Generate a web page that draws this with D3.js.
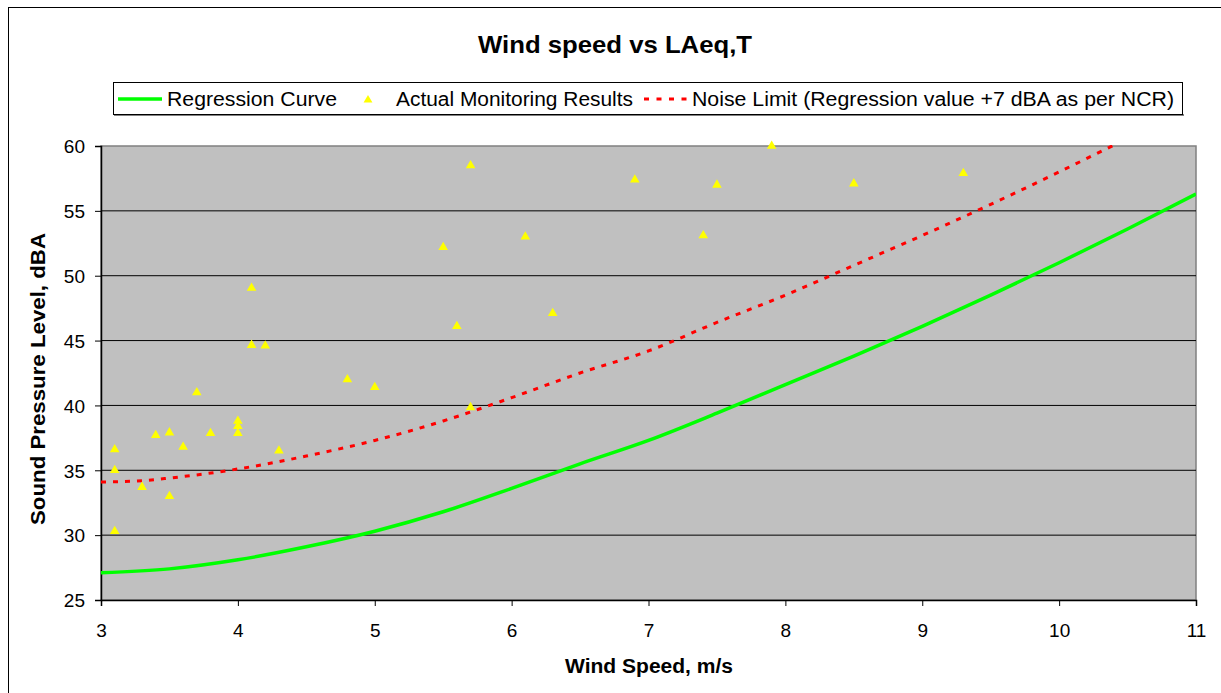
<!DOCTYPE html>
<html>
<head>
<meta charset="utf-8">
<script src="https://cdn.jsdelivr.net/npm/d3@7/dist/d3.min.js"></script>
<style>
  html, body { margin: 0; padding: 0; background: #fff; }
  svg { display: block; font-family: "Liberation Sans", Arial, sans-serif; }
</style>
</head>
<body>
<svg id="chart" width="1221" height="693"></svg>
<script>
// ---- Data ----
const title = "Wind speed vs LAeq,T";
const xTitle = "Wind Speed, m/s";
const yTitle = "Sound Pressure Level, dBA";
const legendLabels = ["Regression Curve", "Actual Monitoring Results", "Noise Limit (Regression value +7 dBA as per NCR)"];

const xTicks = [3, 4, 5, 6, 7, 8, 9, 10, 11];
const yTicks = [25, 30, 35, 40, 45, 50, 55, 60];

// Regression curve (wind speed, dBA)
const regX = [3.0, 3.5, 4.0, 4.5, 5.0, 5.5, 6.0, 6.5, 7.0, 7.5, 8.0, 8.5, 9.0, 9.5, 10.0, 10.5, 11.0];
const regY = [27.1, 27.4, 28.1, 29.1, 30.3, 31.8, 33.6, 35.5, 37.3, 39.4, 41.6, 43.8, 46.1, 48.5, 51.0, 53.6, 56.3];

// Noise limit curve
const limX = [3.0, 3.3, 3.5, 4.0, 4.5, 5.0, 5.5, 6.0, 6.5, 7.0, 7.5, 8.0, 8.5, 9.0, 9.5, 10.0, 10.5, 11.0];
const limY = [34.1, 34.2, 34.4, 35.1, 36.1, 37.3, 38.8, 40.6, 42.5, 44.2, 46.4, 48.5, 50.8, 53.1, 55.5, 58.0, 60.6, 63.3];

// Actual monitoring results
const obsX = [3.1, 3.1, 3.1, 3.3, 3.4, 3.5, 3.5, 3.6, 3.7, 3.8, 4.0, 4.0, 4.0, 4.1, 4.1, 4.2, 4.3, 4.8, 5.0, 5.5, 5.6, 5.7, 5.7, 6.1, 6.3, 6.9, 7.4, 7.5, 7.9, 8.5, 9.3];
const obsY = [36.6, 35.0, 30.3, 33.7, 37.7, 37.9, 33.0, 36.8, 41.0, 37.85, 38.8, 38.4, 37.85, 49.05, 44.65, 44.6, 36.5, 42.0, 41.4, 52.2, 46.1, 58.5, 39.85, 53.0, 47.1, 57.4, 53.1, 57.0, 60.0, 57.1, 57.9];

// ---- Chart ----
const svg = d3.select("#chart");
const x = d3.scaleLinear().domain([3, 11]).range([101, 1196]);
const y = d3.scaleLinear().domain([25, 60]).range([600, 146]);

// Outer frame
svg.append("rect").attr("x", 8.5).attr("y", 7.5).attr("width", 1220).attr("height", 690)
  .attr("fill", "#fff").attr("stroke", "#000").attr("stroke-width", 1);

// Title
svg.append("text").attr("x", 615).attr("y", 53).attr("text-anchor", "middle")
  .attr("font-size", 24).attr("font-weight", "bold").attr("fill", "#000")
  .attr("textLength", 274).attr("lengthAdjust", "spacingAndGlyphs").text(title);

// Plot area
svg.append("rect").attr("x", x(3)).attr("y", y(60)).attr("width", x(11) - x(3)).attr("height", y(25) - y(60))
  .attr("fill", "#C0C0C0").attr("stroke", "#808080").attr("stroke-width", 1.5);

// Grid lines
svg.append("g").selectAll("line").data(yTicks.filter(d => d > 25 && d < 60)).join("line")
  .attr("x1", x(3)).attr("x2", x(11)).attr("y1", d => y(d)).attr("y2", d => y(d))
  .attr("stroke", "#000").attr("stroke-width", 1);

// Axes
const yAxis = d3.axisLeft(y).tickValues(yTicks).tickSize(6).tickPadding(10);
const gy = svg.append("g").attr("transform", `translate(${x(3)},0)`).call(yAxis);
gy.select(".domain").attr("stroke", "#000").attr("stroke-width", 1.5);
gy.selectAll(".tick line").attr("stroke", "#000");
gy.selectAll(".tick text").attr("font-size", 19).attr("fill", "#000")
  .attr("font-family", "Liberation Sans, Arial, sans-serif").attr("dy", "0.36em");

const xAxis = d3.axisBottom(x).tickValues(xTicks).tickSize(6).tickPadding(18);
const gx = svg.append("g").attr("transform", `translate(0,${y(25)})`).call(xAxis);
gx.select(".domain").attr("stroke", "#000").attr("stroke-width", 1.5);
gx.selectAll(".tick line").attr("stroke", "#000");
gx.selectAll(".tick text").attr("font-size", 19).attr("fill", "#000")
  .attr("font-family", "Liberation Sans, Arial, sans-serif");

// Axis titles
svg.append("text").attr("x", 649).attr("y", 673).attr("text-anchor", "middle")
  .attr("font-size", 20).attr("font-weight", "bold").attr("fill", "#000")
  .attr("textLength", 168).attr("lengthAdjust", "spacingAndGlyphs").text(xTitle);
svg.append("text").attr("transform", "translate(45,379) rotate(-90)").attr("text-anchor", "middle")
  .attr("font-size", 21).attr("font-weight", "bold").attr("fill", "#000")
  .attr("textLength", 292).attr("lengthAdjust", "spacingAndGlyphs").text(yTitle);

// Clip
svg.append("clipPath").attr("id", "plotClip").append("rect")
  .attr("x", x(3)).attr("y", y(60) - 1).attr("width", x(11) - x(3)).attr("height", y(25) - y(60) + 1);

const line = d3.line().x(d => x(d[0])).y(d => y(d[1])).curve(d3.curveMonotoneX);

// Noise limit
svg.append("path").attr("clip-path", "url(#plotClip)")
  .datum(limX.map((v, i) => [v, limY[i]])).attr("d", line)
  .attr("fill", "none").attr("stroke", "#FF0000").attr("stroke-width", 3)
  .attr("stroke-dasharray", "5,7");

// Regression
svg.append("path").attr("clip-path", "url(#plotClip)")
  .datum(regX.map((v, i) => [v, regY[i]])).attr("d", line)
  .attr("fill", "none").attr("stroke", "#00FF00").attr("stroke-width", 3.5);

// Observations
const tri = d3.symbol().type(d3.symbolTriangle).size(40);
svg.append("g").selectAll("path").data(obsX.map((v, i) => [v, obsY[i]])).join("path")
  .attr("transform", d => `translate(${x(d[0])},${y(d[1])})`)
  .attr("d", tri).attr("fill", "#FFFF00");

// Legend
const lg = svg.append("g");
lg.append("line").attr("x1", 114).attr("x2", 1184).attr("y1", 115).attr("y2", 115).attr("stroke", "#808080").attr("stroke-width", 2);
lg.append("rect").attr("x", 113.5).attr("y", 82.5).attr("width", 1069).attr("height", 32)
  .attr("fill", "#fff").attr("stroke", "#000").attr("stroke-width", 1);
lg.append("line").attr("x1", 118).attr("x2", 162).attr("y1", 99).attr("y2", 99)
  .attr("stroke", "#00FF00").attr("stroke-width", 3.5);
lg.append("path").attr("transform", "translate(368,100)").attr("d", d3.symbol().type(d3.symbolTriangle).size(34)).attr("fill", "#FFFF00");
lg.append("line").attr("x1", 644).attr("x2", 688).attr("y1", 99).attr("y2", 99)
  .attr("stroke", "#FF0000").attr("stroke-width", 3).attr("stroke-dasharray", "5,7.5");
const legendPos = [[167, 170], [396, 237], [692, 482]];
legendLabels.forEach((t, i) => {
  lg.append("text").attr("x", legendPos[i][0]).attr("y", 106).attr("font-size", 20).attr("fill", "#000")
    .attr("textLength", legendPos[i][1]).attr("lengthAdjust", "spacingAndGlyphs").text(t);
});
</script>
</body>
</html>
